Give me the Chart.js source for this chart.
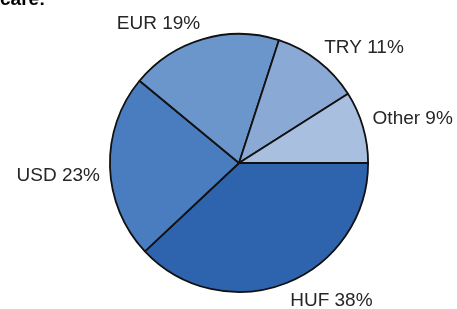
<!DOCTYPE html>
<html>
<head>
<meta charset="utf-8">
<script src="https://cdn.jsdelivr.net/npm/chart.js@4/dist/chart.umd.min.js"></script>
<style>
  html, body { margin: 0; padding: 0; background: #fff; }
  #wrap { width: 457px; height: 309px; position: relative; }
</style>
</head>
<body>
<div id="wrap"><canvas id="c" width="457" height="309"></canvas></div>
<script>
const categories = ['HUF', 'USD', 'EUR', 'TRY', 'Other'];
const shares = [38, 23, 19, 11, 9];
const sliceColors = ['#2e64ae', '#4a7dbf', '#6a96cc', '#8aa9d5', '#a9bfe0'];
const titleFragment = 'care:';

const labelPlugin = {
  id: 'outLabels',
  afterDatasetsDraw(chart) {
    const ctx = chart.ctx;
    const meta = chart.getDatasetMeta(0);
    ctx.save();
    ctx.font = '19px "Liberation Sans", Arial, sans-serif';
    ctx.fillStyle = '#262626';
    ctx.textBaseline = 'alphabetic';
    meta.data.forEach((arc, i) => {
      const p = arc.getProps(['x', 'y', 'startAngle', 'endAngle', 'outerRadius'], true);
      const mid = (p.startAngle + p.endAngle) / 2;
      const r = p.outerRadius + 10;
      const ax = p.x + Math.cos(mid) * r;
      const ay = p.y + Math.sin(mid) * r;
      ctx.textAlign = Math.cos(mid) >= 0 ? 'left' : 'right';
      const y = Math.sin(mid) > 0 ? ay + 14 : ay;
      ctx.fillText(categories[i] + ' ' + shares[i] + '%', ax, y);
    });
    ctx.font = 'bold 19px "Liberation Sans", Arial, sans-serif';
    ctx.fillStyle = '#000';
    ctx.textAlign = 'left';
    ctx.fillText(titleFragment, 0, 5);
    ctx.restore();
  }
};

new Chart(document.getElementById('c'), {
  type: 'pie',
  data: {
    labels: categories,
    datasets: [{
      data: shares,
      backgroundColor: sliceColors,
      borderColor: '#111',
      borderWidth: 1.8
    }]
  },
  options: {
    responsive: false,
    animation: false,
    rotation: 90,
    layout: { padding: { left: 109, right: 88, top: 33, bottom: 16 } },
    plugins: { legend: { display: false }, tooltip: { enabled: false }, title: { display: false } }
  },
  plugins: [labelPlugin]
});
</script>
</body>
</html>
